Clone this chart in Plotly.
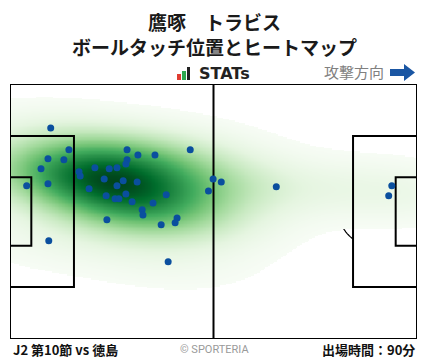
import numpy as np
import plotly.graph_objects as go

# ---- data: ball-touch positions (metres, pitch 105 x 68, attacking left -> right) ----
touch_x = [10.5, 15.2, 9.8, 13.9, 8.0, 4.3, 9.8, 10.0, 17.8, 18.1, 21.9, 25.6, 27.6, 30.2,
           33.0, 37.4, 46.5, 30.2, 29.9, 24.3, 29.2, 32.8, 27.6, 20.4, 24.8, 27.1, 28.1, 29.9,
           31.5, 36.9, 40.3, 34.1, 34.3, 43.1, 42.6, 39.0, 25.0, 40.8, 51.2, 52.4, 54.5, 68.7,
           98.5, 97.7]
touch_y = [56.3, 50.5, 48.1, 47.8, 45.4, 40.9, 41.4, 26.2, 44.6, 43.5, 45.7, 45.4, 45.7, 50.5,
           49.1, 49.1, 50.5, 47.8, 46.7, 42.7, 42.2, 41.9, 40.9, 40.1, 38.2, 37.4, 37.4, 38.7,
           36.6, 36.3, 38.5, 34.5, 33.1, 32.3, 31.0, 30.5, 31.8, 20.6, 39.5, 42.7, 41.9, 40.6,
           40.9, 38.2]

title_lines = ["鷹啄　トラビス", "ボールタッチ位置とヒートマップ"]
match_label = "J2 第10節 vs 徳島"
minutes_label = "出場時間：90分"
credit_label = "© SPORTERIA"
direction_label = "攻撃方向"
brand_label = "STATs"

PITCH_L, PITCH_W = 105.0, 68.0
BW_ADJUST = 1.5
THRESH = 0.025

# ---- gaussian KDE (Scott's rule, full covariance) ----
X = np.array(touch_x)
Y = np.array(touch_y)
data = np.vstack([X, Y])
n = data.shape[1]
kcov = np.cov(data) * (BW_ADJUST * n ** (-1.0 / 6)) ** 2
inv = np.linalg.inv(kcov)
norm = 1.0 / (2 * np.pi * np.sqrt(np.linalg.det(kcov))) / n


def kde(GX, GY):
    d = np.zeros_like(GX)
    for xi, yi in zip(X, Y):
        dx = GX - xi
        dy = GY - yi
        q = inv[0, 0] * dx * dx + 2 * inv[0, 1] * dx * dy + inv[1, 1] * dy * dy
        d += np.exp(-0.5 * q)
    return d * norm


# lowest level: density above which (1 - THRESH) of the mass lies
bwx, bwy = np.sqrt(kcov[0, 0]), np.sqrt(kcov[1, 1])
ex = np.linspace(X.min() - 3 * bwx, X.max() + 3 * bwx, 300)
ey = np.linspace(Y.min() - 3 * bwy, Y.max() + 3 * bwy, 300)
EX, EY = np.meshgrid(ex, ey)
ed = np.sort(kde(EX, EY).ravel())
mass_below = np.cumsum(ed) / ed.sum()
level = ed[min(np.searchsorted(mass_below, THRESH), len(ed) - 1)]

gx = np.linspace(0, PITCH_L, 281)
gy = np.linspace(0, PITCH_W, 183)
GX, GY = np.meshgrid(gx, gy)
dens = kde(GX, GY)
zmax = dens.max()
span = zmax - level
zlow = level - 0.01 * span
z = np.where(dens < level, zlow, dens)

greens = ['rgb(247,252,245)', 'rgb(229,245,224)', 'rgb(199,233,192)', 'rgb(161,217,155)',
          'rgb(116,196,118)', 'rgb(65,171,93)', 'rgb(35,139,69)', 'rgb(0,109,44)', 'rgb(0,68,27)']
off = 0.01 / 1.01
cs = [[0.0, 'rgba(255,255,255,0)'], [off * 0.999, 'rgba(255,255,255,0)']]
for i, c in enumerate(greens):
    cs.append([off + (1 - off) * i / (len(greens) - 1), c])

fig = go.Figure()

fig.add_trace(go.Heatmap(x=gx, y=gy, z=z, zmin=zlow, zmax=zmax, colorscale=cs,
                         zsmooth='best', showscale=False, hoverinfo='skip'))

# ---- pitch lines (above heatmap, below points) ----
line_col = '#000000'


def seg(xs, ys, w):
    fig.add_trace(go.Scatter(x=xs, y=ys, mode='lines', line=dict(color=line_col, width=w),
                             hoverinfo='skip', showlegend=False))


seg([0, PITCH_L, PITCH_L, 0, 0], [0, 0, PITCH_W, PITCH_W, 0], 2)
seg([PITCH_L / 2, PITCH_L / 2], [0, PITCH_W], 2)
pa_y0, pa_y1 = 34 - 20.16, 34 + 20.16
ga_y0, ga_y1 = 34 - 9.16, 34 + 9.16
seg([0, 16.5, 16.5, 0], [pa_y0, pa_y0, pa_y1, pa_y1], 2)
seg([0, 5.5, 5.5, 0], [ga_y0, ga_y0, ga_y1, ga_y1], 2)
seg([PITCH_L, PITCH_L - 16.5, PITCH_L - 16.5, PITCH_L], [pa_y0, pa_y0, pa_y1, pa_y1], 2)
seg([PITCH_L, PITCH_L - 5.5, PITCH_L - 5.5, PITCH_L], [ga_y0, ga_y0, ga_y1, ga_y1], 2)

# ---- touches ----
fig.add_trace(go.Scatter(x=touch_x, y=touch_y, mode='markers',
                         marker=dict(color='#0a4f9e', size=7, line=dict(width=0)),
                         hoverinfo='skip', showlegend=False))

# ---- arcs & centre circle (under heatmap) ----
R = 9.15


def arc_path(cx, cy, a0, a1):
    t = np.linspace(np.radians(a0), np.radians(a1), 40)
    pts = [f"{cx + R * np.cos(a):.3f},{cy + R * np.sin(a):.3f}" for a in t]
    return "M " + " L ".join(pts)


a = np.degrees(np.arccos(5.5 / R))
shapes = [
    dict(type='path', path=arc_path(11, 34, -a, a), line=dict(color='black', width=1.2), layer='below'),
    dict(type='path', path=arc_path(PITCH_L - 11, 34, 180 - a, 180 + a), line=dict(color='black', width=1.2), layer='below'),
    dict(type='circle', x0=52.5 - R, x1=52.5 + R, y0=34 - R, y1=34 + R, line=dict(color='black', width=1.2), layer='below'),
]

# ---- header decorations (paper coords; plot area = x 10..417, y 84..339 px) ----
PL, PW, PT, PH = 10, 407, 84, 255


def px(xp):
    return (xp - PL) / PW


def py(yp):
    return (PT + PH - yp) / PH


for (x0, x1, y0, col) in [(177, 181, 74, '#e03c31'), (182, 186, 71, '#2fa84f'), (187, 190, 67, '#222222')]:
    shapes.append(dict(type='rect', xref='paper', yref='paper', x0=px(x0), x1=px(x1), y0=py(80), y1=py(y0),
                       fillcolor=col, line=dict(width=0), layer='above'))
arrow = (f"M {px(390)},{py(69)} L {px(404)},{py(69)} L {px(404)},{py(64)} L {px(415)},{py(72.5)} "
         f"L {px(404)},{py(81)} L {px(404)},{py(76)} L {px(390)},{py(76)} Z")
shapes.append(dict(type='path', xref='paper', yref='paper', path=arrow, fillcolor='#1a56a3',
                   line=dict(width=0), layer='above'))

font_jp = "Noto Sans CJK JP"
ann = [
    dict(text=f"<b>{title_lines[0]}</b>", x=px(214), y=py(21), font=dict(size=19, color='#1a1a1a', family=font_jp)),
    dict(text=f"<b>{title_lines[1]}</b>", x=px(214), y=py(46), font=dict(size=19, color='#1a1a1a', family=font_jp)),
    dict(text=f"<b>{brand_label}</b>", x=px(197), y=py(74), xanchor='left', font=dict(size=16, color='#222222', family="DejaVu Sans")),
    dict(text=direction_label, x=px(386), y=py(72), xanchor='right', font=dict(size=15, color='#808080', family=font_jp)),
    dict(text=f"<b>{match_label}</b>", x=px(11), y=py(349), xanchor='left', font=dict(size=13, color='#111111', family=font_jp)),
    dict(text=credit_label, x=px(214), y=py(349), font=dict(size=11, color='#9a9a9a', family="Roboto")),
    dict(text=f"<b>{minutes_label}</b>", x=px(417), y=py(349), xanchor='right', font=dict(size=13, color='#111111', family=font_jp)),
]
for d in ann:
    d.update(xref='paper', yref='paper', showarrow=False)
    d.setdefault('xanchor', 'center')
    d['yanchor'] = 'middle'

fig.update_layout(
    width=428, height=359, autosize=False,
    margin=dict(l=PL, r=428 - PL - PW, t=PT, b=359 - PT - PH, pad=0),
    paper_bgcolor='white', plot_bgcolor='white',
    xaxis=dict(range=[0, PITCH_L], visible=False, fixedrange=True),
    yaxis=dict(range=[0, PITCH_W], visible=False, fixedrange=True),
    shapes=shapes, annotations=ann, showlegend=False,
)

fig.write_html("out.html", config={'displayModeBar': False},
               post_script="document.body.style.margin='0';document.body.style.padding='0';")
